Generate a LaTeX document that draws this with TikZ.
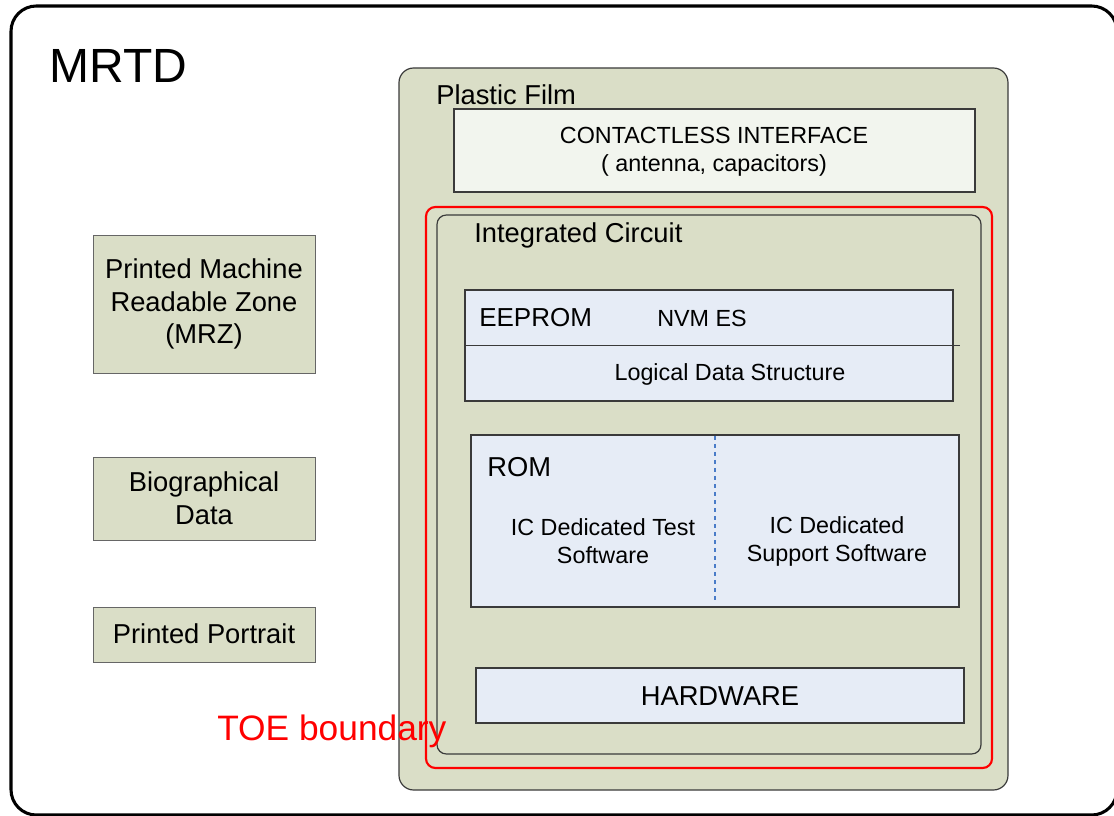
\documentclass[tikz,border=0pt]{standalone}
\usepackage{fontspec}
\setmainfont{Liberation Sans}
\definecolor{olive}{HTML}{DADEC7}
\definecolor{paleblue}{HTML}{E6ECF6}
\definecolor{palegreen}{HTML}{F2F5EE}
\definecolor{edge}{HTML}{3A3A3A}
\definecolor{dashblue}{HTML}{4A7CC8}
\tikzset{
  frame/.style={draw=edge, line width=0.9pt},
  oliveframe/.style={frame, fill=olive},
  blueframe/.style={frame, fill=paleblue},
  txt/.style={inner sep=0pt, font=\fontsize{20.5}{24.4}\selectfont, align=center},
  smalltxt/.style={inner sep=0pt, font=\fontsize{17.5}{21}\selectfont, align=center},
}
\begin{document}
\begin{tikzpicture}[x=0.75pt,y=-0.75pt]
\useasboundingbox (0,0) rectangle (1114,816);
\clip (0,0) rectangle (1114,816);
% outer MRTD
\draw[line width=2.3pt, rounded corners=19pt] (11,6) rectangle (1117,815);
\node[anchor=west, inner sep=0pt, font=\fontsize{36}{40}\selectfont] (mrtd) at (49,66) {MRTD};

% left boxes
\draw[oliveframe, draw=gray!80!black, line width=0.6pt] (93,235) rectangle (315,373);
\node[txt] (mrz) at (204,304) {Printed Machine\\Readable Zone\\(MRZ)};
\draw[oliveframe, draw=gray!80!black, line width=0.6pt] (93,457) rectangle (315,540);
\node[txt] (bio) at (204,498) {Biographical\\Data};
\draw[oliveframe, draw=gray!80!black, line width=0.6pt] (93,607) rectangle (315,662);
\node[txt] (portrait) at (204,634) {Printed Portrait};

% plastic film
\draw[oliveframe, rounded corners=11pt] (399,68) rectangle (1008,790);
\node[txt, anchor=west] (film) at (436,95) {Plastic Film};

% contactless interface
\draw[frame, fill=palegreen] (454,109) rectangle (975,192);
\node[smalltxt] (cif) at (714,152) {CONTACTLESS INTERFACE\\( antenna, capacitors)};

% TOE boundary (red)
\draw[red, line width=1.6pt, rounded corners=7pt] (426,207) rectangle (992,768);
% integrated circuit
\draw[frame, rounded corners=7pt] (437,215) rectangle (981,754);
\node[txt, anchor=west] (ic) at (474,235) {Integrated Circuit};

% EEPROM
\draw[blueframe] (465,290) rectangle (953,401);
\draw[frame, line width=0.7pt] (465,345) -- (960,345);
\node[inner sep=0pt, anchor=west, font=\fontsize{19.5}{22}\selectfont] (eeprom) at (479,318) {EEPROM};
\node[smalltxt, anchor=west] (nvm) at (657,318) {NVM ES};
\node[smalltxt] (lds) at (730,374) {Logical Data Structure};

% ROM
\draw[blueframe] (471,435) rectangle (959,607);
\coordinate (romtop) at (715,436);
\coordinate (rombot) at (715,602);
\draw[dashblue, dashed, line width=0.8pt] (romtop) -- (rombot);
\node[txt, anchor=west] (rom) at (487,467) {ROM};
\node[smalltxt] (test) at (603,541) {IC Dedicated Test\\Software};
\node[smalltxt] (support) at (837,541) {IC Dedicated\\Support Software};

% hardware
\draw[blueframe] (476,668) rectangle (964,723);
\node[txt] (hw) at (720,696) {HARDWARE};

% TOE label
\node[inner sep=0pt, anchor=west, text=red, font=\fontsize{26.5}{30}\selectfont] (toe) at (217,731) {TOE boundary};
\end{tikzpicture}
\end{document}
